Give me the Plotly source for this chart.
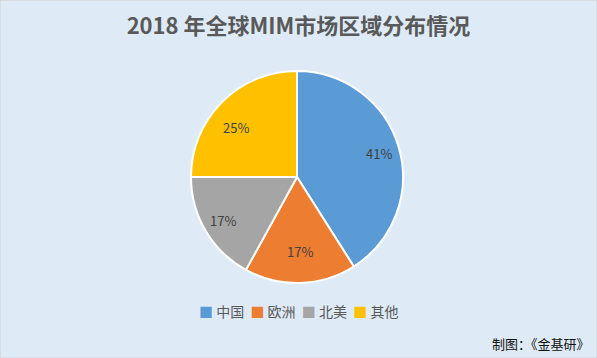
import math
import plotly.graph_objects as go

regions = ["中国", "欧洲", "北美", "其他"]
shares = [41, 17, 17, 25]
colors = ["#5B9BD5", "#ED7D31", "#A5A5A5", "#FFC000"]

W, H = 597, 358
cx, cy, r = 297, 177, 106  # pixel geometry of pie
dom_x = [(cx - r) / W, (cx + r) / W]
dom_y = [(H - cy - r) / H, (H - cy + r) / H]

fig = go.Figure()
fig.add_trace(go.Pie(
    labels=regions, values=shares, sort=False, direction="clockwise", rotation=0,
    marker=dict(colors=colors, line=dict(color="white", width=2)),
    textinfo="none", hoverinfo="label+percent", showlegend=False,
    domain=dict(x=dom_x, y=dom_y),
))

# percentage labels placed at the mid-angle of each slice
total = sum(shares)
cum = 0
ann = []
for v in shares:
    mid = (cum + v / 2) / total * 2 * math.pi
    cum += v
    rr = 0.81 * r
    px = cx + rr * math.sin(mid)
    py = cy - rr * math.cos(mid)
    ann.append(dict(x=px / W, y=1 - py / H, xref="paper", yref="paper",
                    text=f"{round(v / total * 100)}%", showarrow=False,
                    font=dict(size=13, color="#404040", family="Noto Sans CJK SC")))

# legend built from the category names and colours
legend_text = "  ".join(
    f"<span style='color:{c}'>■</span> {name}" for name, c in zip(regions, colors)
)
ann.append(dict(x=0.5, y=1 - 311 / H, xref="paper", yref="paper", xanchor="center",
                yanchor="middle", text=legend_text, showarrow=False,
                font=dict(size=14, color="#595959", family="Noto Sans CJK SC")))

ann.append(dict(x=592 / W, y=1 - 343 / H, xref="paper", yref="paper", xanchor="right",
                yanchor="middle", text="制图：《金基研》", showarrow=False,
                font=dict(size=13, color="#111111", family="Noto Sans CJK SC")))

fig.update_layout(
    width=W, height=H,
    margin=dict(l=0, r=0, t=0, b=0),
    paper_bgcolor="#DEEBF7", plot_bgcolor="#DEEBF7",
    showlegend=False,
    title=dict(text="<b>2018 年全球MIM市场区域分布情况</b>", x=0.5, xanchor="center",
               y=1 - 26 / H, yanchor="middle",
               font=dict(size=22, color="#595959", family="Noto Sans CJK SC")),
    annotations=ann,
    shapes=[dict(type="rect", xref="paper", yref="paper", x0=0, y0=0, x1=1, y1=1,
                 line=dict(color="#D0D0D0", width=1))],
)

fig.write_html("out.html", config={"displayModeBar": False},
               post_script="document.body.style.margin='0';")
